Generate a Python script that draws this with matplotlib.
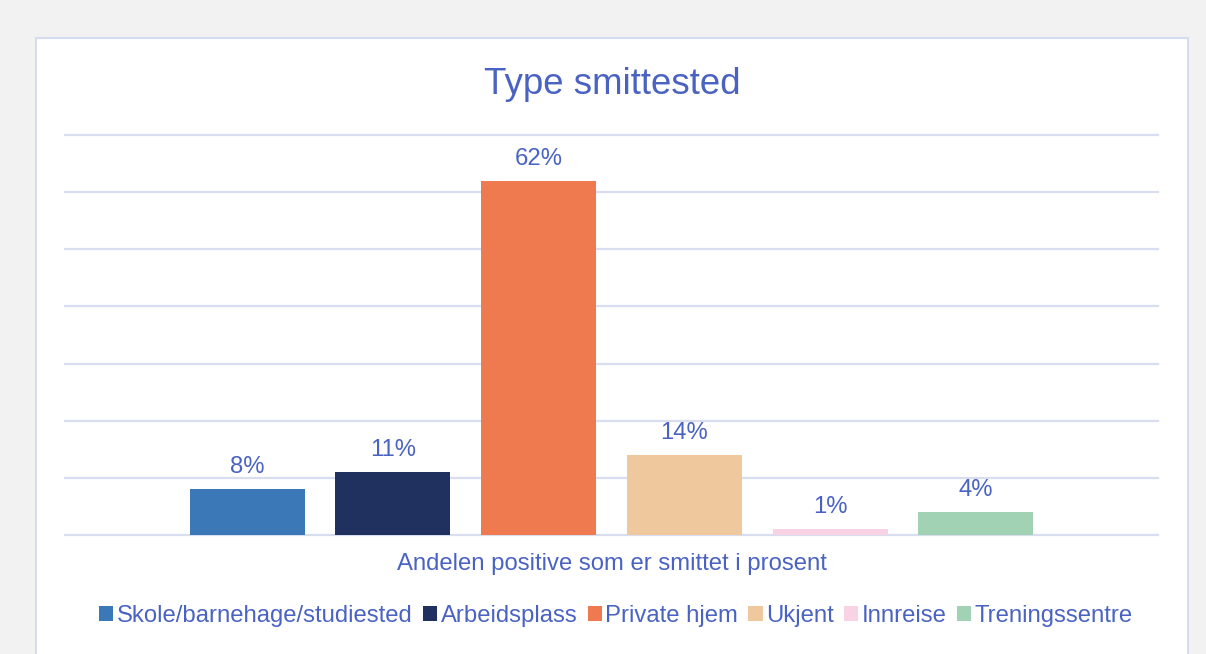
import matplotlib
matplotlib.use("Agg")
import matplotlib.pyplot as plt
from matplotlib.patches import Rectangle, Patch

categories = ["Skole/barnehage/studiested", "Arbeidsplass", "Private hjem",
              "Ukjent", "Innreise", "Treningssentre"]
values = [8, 11, 62, 14, 1, 4]
labels = ["8%", "11%", "62%", "14%", "1%", "4%"]
colors = ["#3a78b8", "#21315f", "#ef7a4f", "#efc89e", "#f8d3e4", "#a2d2b4"]
yticks = [0, 10, 20, 30, 40, 50, 60, 70]

plt.rcParams["font.family"] = ["Liberation Sans", "DejaVu Sans"]
txt = "#4a63c2"
W, H = 1206, 654
fig = plt.figure(figsize=(W / 100, H / 100), dpi=100, facecolor="#f2f2f2")

# white panel
fig.patches.append(Rectangle((36 / W, -0.05), (1188 - 36) / W, 1 - 38 / H + 0.05,
                             transform=fig.transFigure, facecolor="white",
                             edgecolor="#d6dcf0", lw=1.5, zorder=-5))

ax = fig.add_axes([65 / W, 1 - 535 / H, (1158 - 65) / W, (535 - 135) / H])
ax.set_facecolor("none")
x = list(range(len(values)))
bars = ax.bar(x, values, width=0.788, color=colors, zorder=3)
ax.set_xlim(-1.25, 6.25)
ax.set_ylim(0, 70)
ax.set_yticks(yticks)
ax.yaxis.grid(True, color="#d9ddf0", lw=1.6, zorder=0)
ax.set_axisbelow(True)
for gl in ax.get_ygridlines():
    gl.set_clip_on(False)
ax.tick_params(left=False, bottom=False, labelleft=False, labelbottom=False)
for s in ax.spines.values():
    s.set_visible(False)

for b, lab in zip(bars, labels):
    ax.annotate(lab, (b.get_x() + b.get_width() / 2, b.get_height()),
                xytext=(0, 8), textcoords="offset points", ha="center", va="bottom",
                fontsize=17.2, color=txt)

fig.text(612 / W, 1 - 85 / H, "Type smittested", ha="center", va="center",
         fontsize=26.4, color=txt)
fig.text(612 / W, 1 - 564 / H, "Andelen positive som er smittet i prosent",
         ha="center", va="center", fontsize=17.2, color=txt)

handles = [Patch(facecolor=c, edgecolor="none") for c in colors]
leg = fig.legend(handles, categories, loc="center", bbox_to_anchor=(616 / W, 1 - 616 / H),
                 ncol=6, frameon=False, fontsize=17.2, handlelength=0.6, handleheight=0.6,
                 handletextpad=0.15, columnspacing=0.42, borderaxespad=0)
for t in leg.get_texts():
    t.set_color(txt)

fig.savefig("out.png", dpi=100, facecolor=fig.get_facecolor())
